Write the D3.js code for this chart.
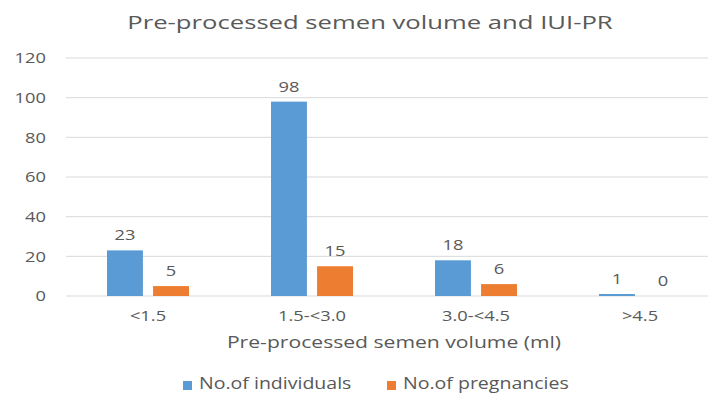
<!DOCTYPE html>
<html><head><meta charset="utf-8">
<script src="https://cdn.jsdelivr.net/npm/d3@7"></script>
<style>body{margin:0;background:#fff}svg{display:block}text{font-family:"Open Sans",sans-serif;fill:#595959}</style>
</head><body><svg id="c" width="708" height="394"></svg>
<script>
const categories = ["<1.5", "1.5-<3.0", "3.0-<4.5", ">4.5"];
const seriesNames = ["No.of individuals", "No.of pregnancies"];
const individuals = [23, 98, 18, 1];
const pregnancies = [5, 15, 6, 0];
const yTicks = [0, 20, 40, 60, 80, 100, 120];
const colors = ["#5B9BD5", "#ED7D31"];
const title = "Pre-processed semen volume and IUI-PR";
const xTitle = "Pre-processed semen volume (ml)";

const svg = d3.select("#c");
const stretch = 1.22;
function str(sel, k){ sel.each(function(){ const w=this.getComputedTextLength(); this.setAttribute("textLength", w*(k||stretch)); this.setAttribute("lengthAdjust","spacingAndGlyphs");}); return sel; }

const x0 = d3.scaleBand().domain(categories).range([66, 722]).padding(0);
const x1 = d3.scaleBand().domain(seriesNames).range([0, x0.bandwidth()]).paddingInner(0.22).paddingOuter(0.89);
const y = d3.scaleLinear().domain([0, 120]).range([296, 58]);

// gridlines
svg.append("g").selectAll("line").data(yTicks).join("line")
  .attr("x1", 66).attr("x2", 708).attr("y1", d => y(d)).attr("y2", d => y(d))
  .attr("stroke", "#d9d9d9").attr("stroke-width", 1);

// y axis labels
const yAxis = svg.append("g").attr("transform", "translate(46,0)")
  .call(d3.axisLeft(y).tickValues(yTicks).tickSize(0).tickPadding(0));
yAxis.select(".domain").remove();
yAxis.selectAll("text").attr("font-size", 15).attr("font-family", '"Open Sans",sans-serif').attr("fill", "#595959");
str(yAxis.selectAll("text"));

// x axis labels
const xAxis = svg.append("g").attr("transform", "translate(0,296)")
  .call(d3.axisBottom(x0).tickSize(0).tickPadding(14));
xAxis.select(".domain").remove();
xAxis.selectAll("text").attr("font-size", 15).attr("font-family", '"Open Sans",sans-serif').attr("fill", "#595959");
str(xAxis.selectAll("text"));

const data = categories.map((c, i) => ({c, vals: [individuals[i], pregnancies[i]]}));
const groups = svg.append("g").selectAll("g").data(data).join("g")
  .attr("transform", d => `translate(${x0(d.c)},0)`);
groups.selectAll("rect").data(d => d.vals.map((v, j) => ({s: seriesNames[j], v, j}))).join("rect")
  .attr("x", d => x1(d.s)).attr("width", x1.bandwidth())
  .attr("y", d => y(d.v)).attr("height", d => y(0) - y(d.v))
  .attr("fill", d => colors[d.j]);
const lbl = groups.selectAll("text").data(d => d.vals.map((v, j) => ({s: seriesNames[j], v, j}))).join("text")
  .attr("x", d => x1(d.s) + x1.bandwidth() / 2).attr("y", d => y(d.v) - 10)
  .attr("text-anchor", "middle").attr("font-size", 15).text(d => d.v);
str(lbl);

// title
str(svg.append("text").attr("x", 370).attr("y", 29).attr("text-anchor", "middle")
  .attr("font-size", 19).text(title), 1.35);
// axis title
str(svg.append("text").attr("x", 394).attr("y", 348).attr("text-anchor", "middle")
  .attr("font-size", 16).text(xTitle), 1.32);

// legend
const legX = [183, 387];
const leg = svg.append("g").selectAll("g").data(seriesNames).join("g")
  .attr("transform", (d, i) => `translate(${legX[i]},0)`);
leg.append("rect").attr("x", 0).attr("y", 381).attr("width", 9).attr("height", 9).attr("fill", (d, i) => colors[i]);
str(leg.append("text").attr("x", 16).attr("y", 389).attr("font-size", 16).text(d => d));
</script></body></html>
